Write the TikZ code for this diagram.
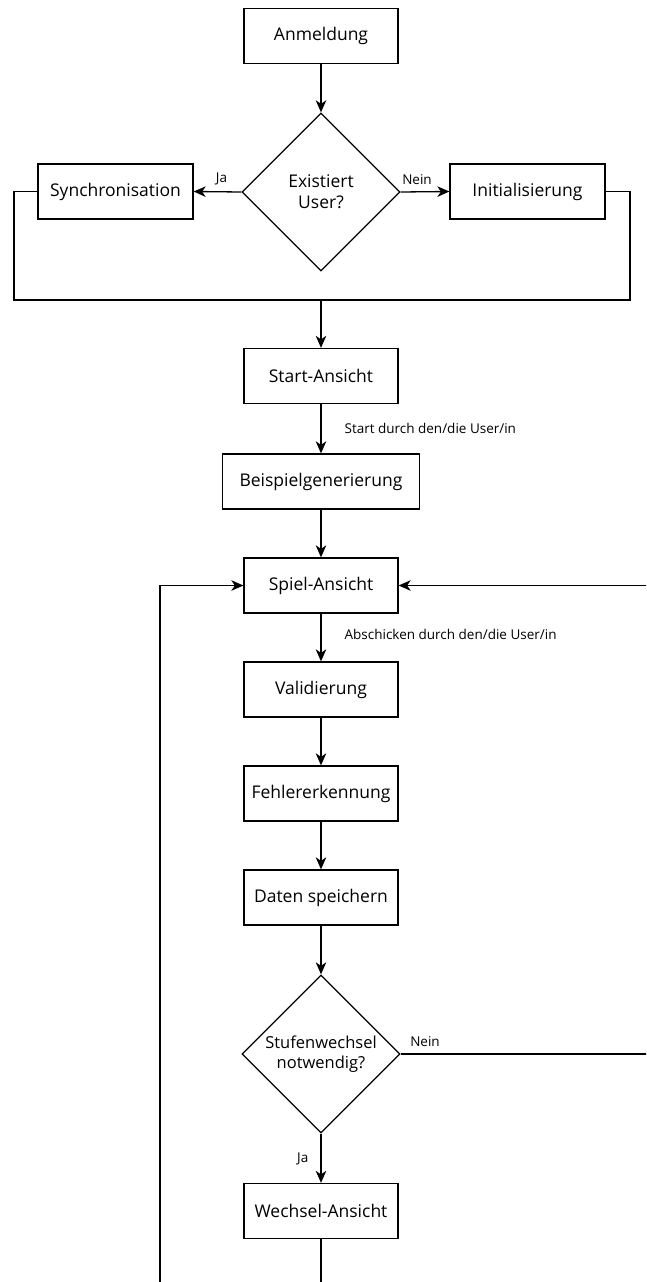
\documentclass[tikz,border=0pt]{standalone}
\usepackage{fontspec}
\setmainfont{Open Sans}
\usetikzlibrary{arrows.meta,shapes.geometric}
\begin{document}
\begin{tikzpicture}[x=1pt,y=-1pt,
  line width=1.3pt,
  box/.style={draw, rectangle, minimum width=154pt, minimum height=55pt,
    inner sep=0pt, font=\fontsize{17.5}{21}\selectfont},
  decision/.style={draw, diamond, minimum width=158pt, minimum height=158pt,
    inner sep=0pt, align=center, font=\fontsize{17.5}{21}\selectfont},
  lbl/.style={font=\fontsize{13.5}{16}\selectfont, inner sep=0pt},
  flow/.style={-{Stealth[length=12pt,width=10.5pt,inset=3.5pt]}},
]
\useasboundingbox (0,0) rectangle (646,1282);
\clip (0,0) rectangle (646,1282);

% nodes of the flow
\node[box] (anm) at (321,36) {Anmeldung};
\node[decision] (q1) at (321,192) {Existiert\\User?};
\node[box, minimum width=155pt] (sync) at (115.5,191.5) {Synchronisation};
\node[box, minimum width=155pt] (init) at (527.5,191.5) {Initialisierung};
\node[box] (start) at (321,376) {Start-Ansicht};
\node[box, minimum width=197pt] (beisp) at (321,481.5) {Beispielgenerierung};
\node[box] (spiel) at (321,585.5) {Spiel-Ansicht};
\node[box] (valid) at (321,689.5) {Validierung};
\node[box] (fehler) at (321,793.5) {Fehlererkennung};
\node[box] (daten) at (321,897.5) {Daten speichern};
\node[decision, font=\fontsize{16.5}{20}\selectfont] (q2) at (321,1054) {Stufenwechsel\\notwendig?};
\node[box] (wechsel) at (321,1211) {Wechsel-Ansicht};

% junction and loop corners
\coordinate (jl) at (14,300);
\coordinate (jr) at (630,300);
\coordinate (join) at (321,300);
\coordinate (rtop) at (660,585.5);
\coordinate (rbot) at (660,1054);
\coordinate (lbot) at (160,1300);
\coordinate (ltop) at (160,585.5);
\coordinate (mbot) at (321,1300);

% connectors
\draw[flow] (anm) -- (q1);
\draw[flow] (q1.west) -- node[lbl, above=6pt, xshift=4pt] {Ja} (sync.east);
\draw[flow] (q1.east) -- node[lbl, above=6pt, xshift=-8pt] {Nein} (init.west);
\draw (sync.west) -| (jl) -- (jr) |- (init.east);
\draw[flow] (join) -- (start);
\draw[flow] (start) -- node[lbl, right=23pt, anchor=west] {Start durch den/die User/in} (beisp);
\draw[flow] (beisp) -- (spiel);
\draw[flow] (spiel) -- node[lbl, right=23pt, anchor=west, yshift=3pt] {Abschicken durch den/die User/in} (valid);
\draw[flow] (valid) -- (fehler);
\draw[flow] (fehler) -- (daten);
\draw[flow] (daten) -- (q2);
\draw[flow] (q2.south) -- node[lbl, left=12pt, yshift=-1pt] {Ja} (wechsel);
\draw (q2.east) -- (rbot) -- (rtop);
\draw[flow] (rtop) -- (spiel.east);
\node[lbl] at (425,1042) {Nein};
\draw (wechsel.south) -- (mbot) -- (lbot);
\draw[flow] (lbot) -- (ltop) -- (spiel.west);
\end{tikzpicture}
\end{document}
